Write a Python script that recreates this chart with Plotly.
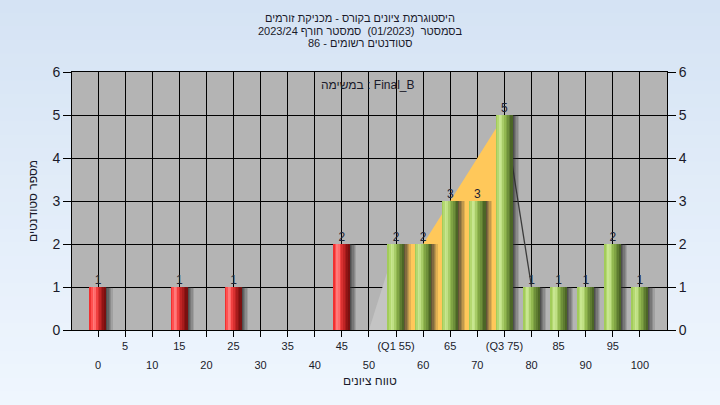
import plotly.graph_objects as go

# ---------------- data ----------------
grades = list(range(0, 101, 5))
counts = [1, 0, 0, 1, 0, 1, 0, 0, 0, 2, 0, 2, 2, 3, 3, 5, 1, 1, 1, 2, 1]
tick_labels = ["0", "5", "10", "15", "20", "25", "30", "35", "40", "45", "50",
               "(Q1 55)", "60", "65", "70", "(Q3 75)", "80", "85", "90", "95", "100"]
pass_mark = 55
q1, q3 = 55, 75
area_x = [50, 55, 60, 75, 80]
area_y = [0, 2, 2, 5, 1]

title_lines = ["היסטוגרמת ציונים בקורס - מכניקת זורמים",
               "בסמסטר  (01/2023)  סמסטר חורף 2023/24",
               "סטודנטים רשומים - 86"]
task_label = "במשימה : Final_B"
x_title = "טווח ציונים"
y_title = "מספר סטודנטים"

FONT = "Liberation Sans, DejaVu Sans, Arial, sans-serif"

# ---------------- style ----------------
W, H = 720, 405
ML, MR, MT, MB = 72, 53, 72, 75
PW, PH = W - ML - MR, H - MT - MB
bar_w = 3.0
red_grad = ["#f03030", "#ff5050", "#ff7a7a", "#ff6a6a", "#f04040",
            "#d83030", "#c02424", "#a81c1c", "#901414", "#7a1010"]
green_grad = ["#a2cc5a", "#b4d870", "#c8e690", "#c0e084", "#a8cc68",
              "#92b850", "#80a444", "#6e903a", "#5e7c30", "#4c6626"]
shadow_alpha = [0.75, 0.6, 0.45, 0.3, 0.15]

fig = go.Figure()

# ---------------- area (Q1..Q3 highlight) on main subplot ----------------
gx = [x for x in area_x if x <= q1]
gy = [y for x, y in zip(area_x, area_y) if x <= q1]
fig.add_trace(go.Scatter(x=gx + [gx[-1], gx[0]], y=gy + [0, 0], fill="toself",
                         fillcolor="#c4c4c4", line=dict(width=0), mode="lines",
                         hoverinfo="skip", showlegend=False))
yx = [x for x in area_x if q1 <= x <= q3]
yy = [y for x, y in zip(area_x, area_y) if q1 <= x <= q3]
fig.add_trace(go.Scatter(x=yx + [yx[-1], yx[0]], y=yy + [0, 0], fill="toself",
                         fillcolor="#ffc85a", line=dict(width=0), mode="lines",
                         hoverinfo="skip", showlegend=False))
lx = [x for x in area_x if x >= q3]
ly = [y for x, y in zip(area_x, area_y) if x >= q3]
fig.add_trace(go.Scatter(x=lx, y=ly, mode="lines", line=dict(color="#3a3a3a", width=1.3),
                         hoverinfo="skip", showlegend=False))

# ---------------- shadows (overlay subplot, above area) ----------------
sw = 0.25
for i, a in enumerate(shadow_alpha):
    fig.add_trace(go.Bar(x=grades, y=counts, width=sw, offset=bar_w / 2 + i * sw - 0.05,
                         marker=dict(color=f"rgba(45,45,45,{a})", line=dict(width=0)),
                         xaxis="x2", yaxis="y2", hoverinfo="skip", showlegend=False))

# ---------------- bars (cylinder slices) ----------------
n = len(red_grad)
cols_idx = [g >= pass_mark for g in grades]
for i in range(n):
    colors = [green_grad[i] if p else red_grad[i] for p in cols_idx]
    fig.add_trace(go.Bar(x=grades, y=counts, width=bar_w / n + 0.02,
                         offset=-bar_w / 2 + i * bar_w / n,
                         marker=dict(color=colors, line=dict(width=0)),
                         xaxis="x2", yaxis="y2", hoverinfo="skip", showlegend=False))

# ---------------- value labels ----------------
lab_x = [g for g, c in zip(grades, counts) if c > 0]
lab_y = [c for c in counts if c > 0]
fig.add_trace(go.Scatter(x=lab_x, y=lab_y, text=[str(c) for c in lab_y], mode="text",
                         textposition="top center",
                         textfont=dict(family=FONT, size=12, color="#1c2233"),
                         xaxis="x2", yaxis="y2", hoverinfo="skip", showlegend=False))

# ---------------- background gradient ----------------
shapes = []
steps = 30
top = (213, 227, 244)
bot = (239, 246, 254)
y0p, y1p = -MB / PH, 1 + MT / PH
x0p, x1p = -ML / PW, 1 + MR / PW
for k in range(steps):
    t = k / (steps - 1)
    c = tuple(round(top[j] + (bot[j] - top[j]) * t) for j in range(3))
    ya = y1p - (y1p - y0p) * k / steps
    yb = y1p - (y1p - y0p) * (k + 1) / steps
    shapes.append(dict(type="rect", xref="paper", yref="paper", x0=x0p, x1=x1p,
                       y0=yb - 0.002, y1=ya + 0.002, layer="below",
                       fillcolor=f"rgb{c}", line=dict(width=0)))
shapes.append(dict(type="rect", xref="paper", yref="paper", x0=0, x1=1, y0=0, y1=1,
                   layer="below", fillcolor="#b4b4b4", line=dict(width=0)))

# ---------------- annotations ----------------
ann = []
for i, t in enumerate(title_lines):
    ann.append(dict(text="\u202b" + t + "\u202c", xref="paper", yref="paper",
                    x=(360 - ML) / PW, y=1 + (MT - (18 + i * 12.7)) / PH,
                    showarrow=False, xanchor="center", yanchor="middle",
                    font=dict(family=FONT, size=11, color="#1a1a2a")))
ann.append(dict(text=task_label, xref="paper", yref="paper",
                x=(368 - ML) / PW, y=(330 - 85) / PH, showarrow=False,
                xanchor="center", yanchor="middle",
                font=dict(family=FONT, size=12, color="#1a1a2a")))
ann.append(dict(text=x_title, xref="paper", yref="paper",
                x=(370 - ML) / PW, y=(330 - 381) / PH, showarrow=False,
                xanchor="center", yanchor="middle",
                font=dict(family=FONT, size=12, color="#1a1a2a")))
ann.append(dict(text=y_title, xref="paper", yref="paper",
                x=(33 - ML) / PW, y=0.5, showarrow=False, textangle=-90,
                xanchor="center", yanchor="middle",
                font=dict(family=FONT, size=12, color="#1a1a2a")))

odd_text = [t if i % 2 == 1 else "" for i, t in enumerate(tick_labels)]
even_vals = [g for i, g in enumerate(grades) if i % 2 == 0]
even_text = [t for i, t in enumerate(tick_labels) if i % 2 == 0]

xr = [-4.8, 105]
fig.update_layout(
    width=W, height=H, autosize=False,
    margin=dict(l=ML, r=MR, t=MT, b=MB),
    paper_bgcolor="#e2ecf8", plot_bgcolor="rgba(0,0,0,0)",
    barmode="overlay", bargap=0,
    shapes=shapes, annotations=ann,
    font=dict(family=FONT, color="#1a1a2a"),
    xaxis=dict(range=xr, tickmode="array", tickvals=grades, ticktext=odd_text,
               ticks="outside", ticklen=6, tickcolor="black", showgrid=True,
               gridcolor="black", gridwidth=1, showline=True, linecolor="black",
               linewidth=1, mirror=True, zeroline=False,
               tickfont=dict(family=FONT, size=11, color="#1a1a2a")),
    xaxis2=dict(range=xr, overlaying="x", anchor="y", side="bottom", tickmode="array",
                tickvals=even_vals, ticktext=even_text, ticks="", showgrid=False,
                showline=False, zeroline=False, ticklabelstandoff=27,
                tickfont=dict(family=FONT, size=11, color="#1a1a2a")),
    yaxis=dict(range=[0, 6], dtick=1, ticks="outside", ticklen=8, tickcolor="black",
               showgrid=True, gridcolor="black", gridwidth=1, showline=True,
               linecolor="black", mirror=True, zeroline=False,
               tickfont=dict(family=FONT, size=14, color="#1a1a2a")),
    yaxis2=dict(range=[0, 6], dtick=1, overlaying="y", side="right", anchor="x",
                ticks="outside", ticklen=8, tickcolor="black", showgrid=False,
                showline=True, linecolor="black", zeroline=False,
                tickfont=dict(family=FONT, size=14, color="#1a1a2a")),
)

fig.write_html("out.html", config={"displayModeBar": False},
               post_script="document.body.style.margin='0';")
